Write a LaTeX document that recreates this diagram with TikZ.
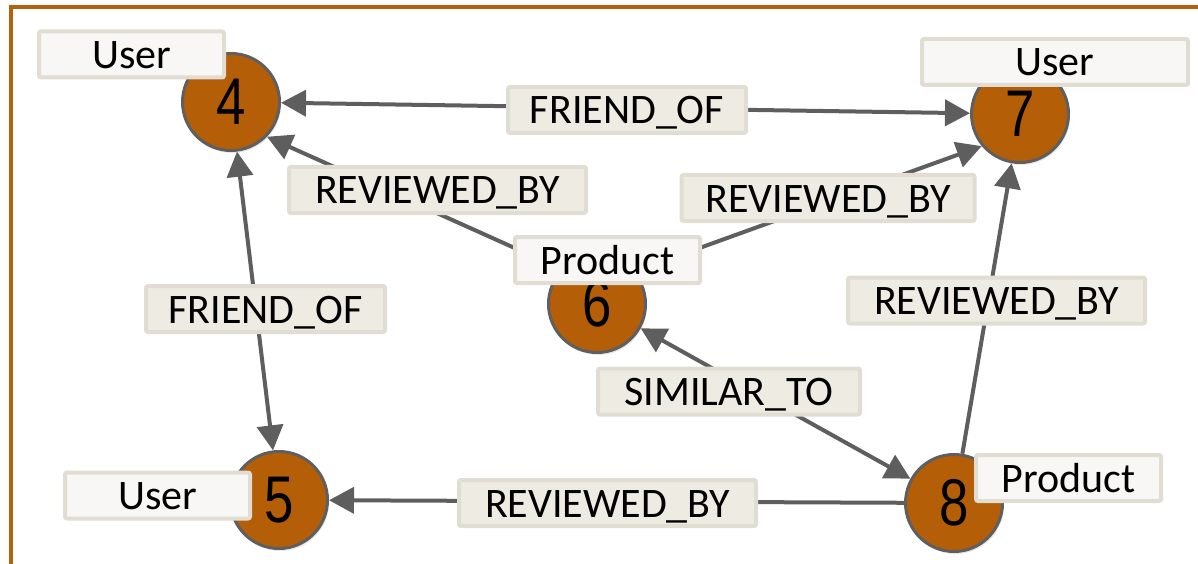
\documentclass[tikz,border=0pt]{standalone}
\usepackage{fontspec}
\setmainfont{Carlito}
\newfontfamily\numfont{Liberation Sans}
\usetikzlibrary{arrows.meta,shadows,backgrounds}

\definecolor{nodefill}{HTML}{B45E07}
\definecolor{ringgray}{HTML}{5F5F5F}
\definecolor{edgegray}{HTML}{5E5E5E}
\definecolor{tagfill}{HTML}{F8F7F5}
\definecolor{relfill}{HTML}{EEEBE3}
\definecolor{tagborder}{HTML}{E2DDD2}
\definecolor{framecol}{HTML}{B5600C}

\newcommand{\ndigit}[1]{\scalebox{0.8}[1]{#1}}

\tikzset{
  circ/.style={circle, minimum size=97pt, inner sep=0pt, fill=nodefill,
    draw=ringgray, line width=3pt,
    font={\fontsize{66pt}{66pt}\selectfont\numfont},
    drop shadow={opacity=0.18, shadow xshift=1.5pt, shadow yshift=-2.5pt}},
  tag/.style={draw=tagborder, line width=4pt, fill=tagfill, rounded corners=2pt,
    minimum height=46pt, minimum width=185pt, inner sep=0pt,
    text height=28pt, text depth=0pt,
    font={\fontsize{42pt}{42pt}\selectfont}},
  rel/.style={tag, fill=relfill},
  link/.style={draw=edgegray, line width=4pt,
    -{Triangle[length=25pt,width=26pt]}},
  biLink/.style={draw=edgegray, line width=4pt,
    {Triangle[length=25pt,width=26pt]}-{Triangle[length=25pt,width=26pt]}},
  framestyle/.style={draw=framecol, line width=4.5pt}
}

\begin{document}
\begin{tikzpicture}[x=1pt, y=-1pt]
\useasboundingbox (0,0) rectangle (1198,564);

% outer frame (left and top sides)
\draw[framestyle] (11,564) -- (11,7) -- (1198,7);

% graph nodes
\node[circ] (n4) at (231,102) {\ndigit{4}};
\node[circ] (n7) at (1020,114) {\ndigit{7}};
\node[circ] (n6) at (597,304) {\raisebox{-5pt}{\ndigit{6}}};
\node[circ] (n5) at (279,500) {\ndigit{5}};
\node[circ] (n8) at (954,503) {\ndigit{8}};

% relationships, kept beneath the nodes
\begin{scope}[on background layer]
\draw[biLink] (n4) -- (n7);
\draw[link] ([yshift=19pt]n6.center) -- (n4.-44);
\draw[link] ([yshift=19pt]n6.center) -- (n7.220);
\draw[biLink] (n4) -- (n5);
\draw[link] (n8) -- (n7);
\draw[biLink] (n6) -- (n8);
\draw[link] (n8) -- (n5);
\end{scope}

% relationship labels
\node[rel, minimum width=238pt] (r47) at (627,110) {FRIEND\_OF};
\node[rel, minimum width=297pt] (r64) at (437.5,190) {REVIEWED\_BY};
\node[rel, minimum width=293pt] (r67) at (828,198) {REVIEWED\_BY};
\node[rel, minimum width=239pt] (r45) at (265.5,309) {FRIEND\_OF};
\node[rel, minimum width=297pt] (r87) at (996.5,300.5) {REVIEWED\_BY};
\node[rel, minimum width=262pt] (r68) at (729,391.5) {SIMILAR\_TO};
\node[rel, minimum width=297pt] (r85) at (607.5,503) {REVIEWED\_BY};

% node type labels
\node[tag] (u4) at (131.5,54.5) {User};
\node[tag, minimum width=266pt] (u7) at (1055,62) {User};
\node[tag] (p6) at (607.5,260) {Product};
\node[tag] (p8) at (1068.5,478) {Product};
\node[tag] (u5) at (157.5,495.5) {User};
\end{tikzpicture}
\end{document}
